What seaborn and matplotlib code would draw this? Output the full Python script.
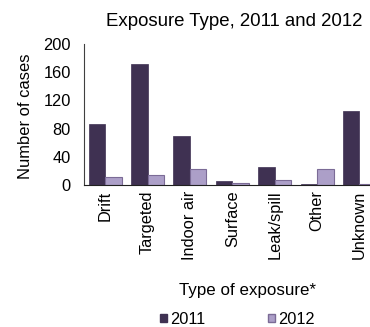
import matplotlib
matplotlib.use("Agg")
import matplotlib.pyplot as plt
import seaborn as sns
import pandas as pd
from matplotlib.patches import Patch

categories = ["Drift", "Targeted", "Indoor air", "Surface", "Leak/spill", "Other", "Unknown"]
cases_2011 = [87, 172, 70, 5, 25, 2, 105]
cases_2012 = [12, 14, 23, 3, 7, 23, 1]
years = ["2011", "2012"]
y_ticks = [0, 40, 80, 120, 160, 200]

df = pd.DataFrame({
    "Type": categories * 2,
    "Year": [years[0]] * len(categories) + [years[1]] * len(categories),
    "Cases": cases_2011 + cases_2012,
})

sns.set_theme(style="white")
plt.rcParams["font.family"] = ["Liberation Sans", "DejaVu Sans"]
plt.rcParams["text.color"] = "black"
plt.rcParams["axes.labelcolor"] = "black"

dark = "#3F3152"
light = "#AC9FC8"
light_edge = "#7B6B96"
palette = {years[0]: dark, years[1]: light}

fig = plt.figure(figsize=(3.70, 3.27), dpi=100)
ax = fig.add_axes([0.227, 0.4343, 0.8017, 0.4311])

sns.barplot(data=df, x="Type", y="Cases", hue="Year", order=categories,
            hue_order=years, palette=palette, width=0.78, gap=0,
            saturation=1, legend=False, ax=ax)

n = len(categories)
for i, patch in enumerate(ax.patches):
    if i >= n:
        patch.set_edgecolor(light_edge)
        patch.set_linewidth(0.8)
    else:
        patch.set_edgecolor(dark)
        patch.set_linewidth(0.5)

ax.set_ylim(0, 200)
ax.set_xlim(-0.5, n - 0.5)
ax.set_yticks(y_ticks)
ax.set_yticklabels([str(t) for t in y_ticks], fontsize=11.8)

# category labels centred under each group, ticks on the group boundaries
ax.set_xticks(range(n))
ax.set_xticklabels(categories, rotation=90, fontsize=11.8)
ax.tick_params(axis="x", length=0, pad=4, labelcolor="black")
ax.set_xticks([i - 0.5 for i in range(n + 1)], minor=True)
ax.tick_params(axis="x", which="minor", length=3.6, width=0.8, color="#808080", direction="out")
ax.tick_params(axis="y", length=3.3, width=0.8, color="#808080", direction="out",
               pad=6.3, labelcolor="black")

for side in ["top", "right"]:
    ax.spines[side].set_visible(False)
ax.spines["left"].set_color("#404040")
ax.spines["bottom"].set_color("#202020")
ax.spines["left"].set_linewidth(0.8)
ax.spines["bottom"].set_linewidth(0.8)

ax.set_xlabel("")
ax.set_ylabel("Number of cases", fontsize=11.9)
ax.yaxis.set_label_coords(-0.172, 0.49)

fig.text(0.633, 0.933, "Exposure Type, 2011 and 2012", ha="center", va="center", fontsize=13.4)
fig.text(0.668, 0.113, "Type of exposure*", ha="center", va="center", fontsize=12.2)

handles = [Patch(facecolor=dark, edgecolor=dark), Patch(facecolor=light, edgecolor=light_edge)]
fig.legend(handles, years, loc="center", bbox_to_anchor=(0.642, 0.024), ncol=2,
           frameon=False, fontsize=11.8, handlelength=0.4, handleheight=0.4,
           handletextpad=0.2, columnspacing=3.85, borderpad=0)

fig.savefig("out.png", dpi=100)
